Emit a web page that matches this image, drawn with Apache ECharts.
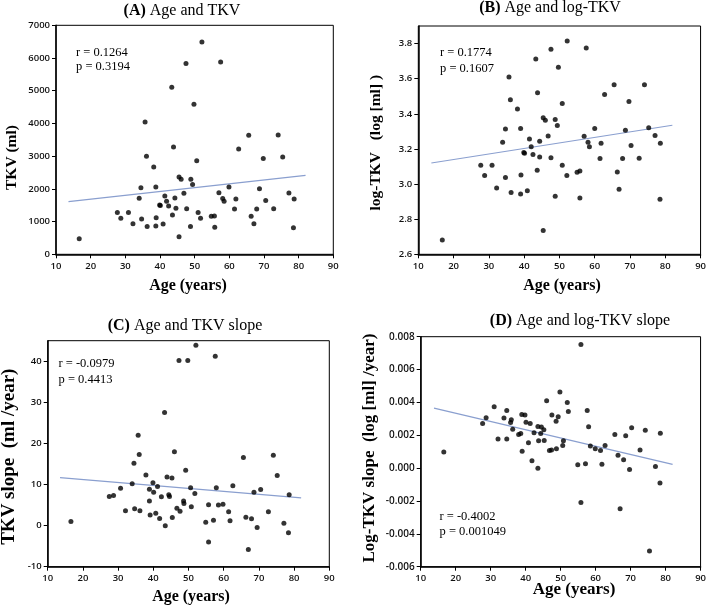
<!DOCTYPE html>
<html>
<head>
<meta charset="utf-8">
<script src="https://cdn.jsdelivr.net/npm/echarts@6/dist/echarts.min.js"></script>
<style>html,body{margin:0;padding:0;background:#fff;}#c{width:709px;height:608px;}</style>
</head>
<body>
<div id="c"></div>
<script>
// ---------- Data ----------
// (A) Age vs TKV (ml)
var ageA = [16.7,27.7,28.7,30.9,32.2,34.0,34.5,34.7,35.7,36.1,36.3,38.2,38.8,38.8,38.9,39.9,40.1,40.9,41.4,41.9,42.5,43.4,43.6,43.9,44.3,44.6,45.5,45.5,46.1,46.9,47.5,47.7,48.9,48.8,49.4,49.8,50.6,51.0,51.7,52.1,54.8,55.7,55.8,57.0,57.5,58.1,58.5,59.9,61.5,61.9,62.7,65.6,66.3,67.1,67.9,68.7,69.8,70.5,72.8,74.1,75.4,77.2,78.5,78.7];
var tkvA = [479,1274,1100,1274,937,1712,2038,1080,4045,2996,846,2670,2058,866,1121,1505,1495,927,1783,1620,1478,5105,1202,3281,1722,1406,2364,540,2293,1865,5829,1396,2293,846,2130,4586,2863,1274,1100,6491,1162,1172,825,1885,5880,1702,1620,2058,1386,1692,3220,3638,1162,937,1386,2007,2925,1641,1396,3648,2976,1875,815,1692];
var fitAgeA = [13.6, 82.0];
var fitValA = [1610, 2415];

// (B) Age vs log-TKV
var ageB = [16.8,27.7,28.8,30.9,32.2,33.9,34.7,34.7,35.7,36.1,36.3,38.1,39.0,39.0,39.1,39.9,40.1,40.9,41.5,42.0,42.5,43.3,43.7,43.8,44.4,44.4,45.4,45.4,46.0,46.8,47.6,47.6,48.8,48.8,49.4,49.7,50.8,50.8,52.1,52.2,55.0,55.8,55.8,57.0,57.6,58.1,58.5,60.0,61.5,61.8,62.8,65.5,66.4,66.9,67.9,68.7,69.7,70.3,72.6,74.1,75.3,77.1,78.5,78.6];
var logB = [2.682,3.107,3.048,3.107,2.977,3.238,3.314,3.038,3.610,3.480,2.952,3.428,3.316,2.943,3.051,3.179,3.176,2.962,3.257,3.213,3.168,3.712,3.078,3.520,3.244,3.154,3.377,2.735,3.364,3.274,3.768,3.150,3.368,2.930,3.333,3.665,3.459,3.107,3.048,3.815,3.067,3.074,2.920,3.272,3.775,3.238,3.213,3.316,3.145,3.232,3.510,3.566,3.069,2.971,3.145,3.307,3.470,3.219,3.147,3.566,3.320,3.276,2.914,3.232];
var fitAgeB = [13.7, 82.0];
var fitValB = [3.120, 3.335];

// (C) Age vs TKV slope (ml/year)
var ageC = [16.6,27.5,28.7,30.7,32.1,34.0,34.5,34.7,35.7,36.0,36.2,37.9,38.9,38.9,39.1,39.9,40.1,40.7,41.2,41.8,42.3,43.2,43.4,43.9,44.4,44.6,45.3,45.4,46.0,46.7,47.3,47.6,48.6,48.7,49.2,49.8,50.6,50.8,51.8,52.1,54.9,55.7,55.7,57.1,57.6,57.9,58.5,59.8,61.4,61.8,62.6,65.6,66.3,67.0,67.9,68.6,69.5,70.5,72.7,74.1,75.2,77.1,78.4,78.6];
var slopeC = [1.0,7.1,7.3,9.1,3.6,10.2,15.2,4.1,22.0,17.3,3.6,12.3,8.85,6.0,2.6,10.4,8.1,3.0,9.5,1.7,7.0,27.5,-0.05,11.8,7.5,7.1,11.6,2.0,18.0,4.2,40.2,3.5,6.0,5.4,13.5,40.2,9.2,4.6,7.8,43.9,0.8,5.05,-4.0,1.3,41.2,9.2,5.0,5.2,3.35,1.2,9.7,16.6,2.05,-5.8,1.65,8.1,-0.45,8.8,3.35,17.1,12.2,0.6,-1.75,7.5];
var fitAgeC = [13.5, 82.0];
var fitValC = [11.68, 6.75];

// (D) Age vs log-TKV slope (log[ml]/year)
var ageD = [16.6,27.7,28.7,31.0,32.1,33.8,34.6,34.6,35.7,35.9,36.3,38.0,38.6,38.9,39.0,39.8,40.1,40.8,41.3,41.8,42.4,43.5,43.5,43.7,44.3,44.5,45.2,45.3,46.0,46.8,47.4,47.5,48.7,48.8,49.3,49.8,50.6,50.8,51.9,52.2,54.9,55.8,55.8,57.1,57.6,58.0,58.5,59.9,61.4,61.8,62.7,65.5,66.4,67.0,68.0,68.6,69.7,70.3,72.7,74.2,75.4,77.1,78.4,78.5];
var logSlopeD = [0.00098,0.00272,0.00307,0.00374,0.00177,0.00305,0.00351,0.00177,0.00278,0.00294,0.00236,0.00205,0.00211,0.00327,0.00102,0.00323,0.00280,0.00154,0.00272,0.00045,0.00215,0.00254,0.00000,0.00167,0.00211,0.00250,0.00234,0.00168,0.00410,0.00108,0.00110,0.00323,0.00286,0.00118,0.00313,0.00463,0.00138,0.00167,0.00400,0.00345,0.00020,0.00753,-0.00209,0.00027,0.00351,0.00252,0.00134,0.00118,0.00108,0.00023,0.00138,0.00205,0.00079,-0.00247,0.00051,0.00197,-0.00008,0.00246,0.00110,0.00231,-0.00505,0.00010,-0.00091,0.00213];
var fitAgeD = [13.8, 82.0];
var fitValD = [0.00365, 0.000225];

// ---------- Chart ----------
function zip(a, b) { return a.map(function (v, i) { return [v, b[i]]; }); }

var SERIF = '"Liberation Serif","Times New Roman",serif';
var SANS = '"Open Sans","DejaVu Sans",Verdana,sans-serif';

var grids = [
  { left: 56, top: 25.3, width: 277.3, height: 229 },
  { left: 418.3, top: 26, width: 284, height: 228.3 },
  { left: 47.7, top: 340.7, width: 281.6, height: 226 },
  { left: 420.7, top: 336.7, width: 280, height: 230 }
].map(function (g) {
  g.show = true; g.borderColor = '#000'; g.borderWidth = 1; g.backgroundColor = '#fff';
  return g;
});

function xAx(i) {
  return {
    type: 'value', gridIndex: i, min: 10, max: 90, interval: 10,
    axisLine: { onZero: false, lineStyle: { color: '#000', width: 1.5 } },
    axisTick: { inside: false, length: 4, lineStyle: { color: '#000' } },
    axisLabel: { color: '#111', fontFamily: SANS, fontSize: 9.5, fontWeight: 600, margin: 7 },
    splitLine: { show: false }
  };
}
function yAx(i, min, max, interval, dec, hideMax, fs) {
  return {
    type: 'value', gridIndex: i, min: min, max: max, interval: interval,
    axisLine: { onZero: false, lineStyle: { color: '#000', width: 1.5 } },
    axisTick: { inside: false, length: 4, lineStyle: { color: '#000' } },
    axisLabel: {
      color: '#111', fontFamily: SANS, fontSize: fs || 9.5, fontWeight: 600, margin: 6,
      showMaxLabel: !hideMax,
      formatter: function (v) { return dec == null ? String(Math.round(v)) : Number(v).toFixed(dec); }
    },
    splitLine: { show: false }
  };
}

function scatter(i, xs, ys) {
  return {
    type: 'scatter', xAxisIndex: i, yAxisIndex: i, data: zip(xs, ys),
    symbol: 'circle', symbolSize: 5, itemStyle: { color: '#000' }, z: 3, silent: true
  };
}
function fit(i, xs, ys) {
  return {
    type: 'line', xAxisIndex: i, yAxisIndex: i, data: zip(xs, ys),
    showSymbol: false, symbol: 'none', lineStyle: { color: '#8a9fcf', width: 1.2 }, z: 2, silent: true
  };
}

function txt(x, y, text, size, bold, rot) {
  return {
    type: 'text', x: x, y: y, rotation: rot || 0, silent: true,
    style: {
      text: text, fill: '#000', textAlign: 'center', textVerticalAlign: 'middle',
      font: (bold ? 'bold ' : '') + size + 'px ' + SERIF
    }
  };
}
function titleTxt(x, y, tag, rest) {
  return {
    type: 'text', x: x, y: y, silent: true,
    style: {
      text: '{b|' + tag + '} {n|' + rest + '}',
      textAlign: 'center', textVerticalAlign: 'middle',
      rich: {
        b: { fontFamily: SERIF, fontSize: 16, fontWeight: 'bold', fill: '#000', color: '#000' },
        n: { fontFamily: SERIF, fontSize: 16, fill: '#000', color: '#000' }
      },
      font: '16px ' + SERIF, fill: '#000'
    }
  };
}
function leftTxt(x, y, text) {
  return {
    type: 'text', x: x, y: y, silent: true,
    style: { text: text, fill: '#000', textAlign: 'left', textVerticalAlign: 'middle', font: '12.5px ' + SERIF }
  };
}

var option = {
  animation: false,
  backgroundColor: '#fff',
  grid: grids,
  xAxis: [xAx(0), xAx(1), xAx(2), xAx(3)],
  yAxis: [
    yAx(0, 0, 7000, 1000, null, false),
    yAx(1, 2.6, 3.9, 0.2, 1, true),
    yAx(2, -10, 45, 10, null, true),
    yAx(3, -0.006, 0.008, 0.002, 3, false, 10)
  ],
  series: [
    fit(0, fitAgeA, fitValA), scatter(0, ageA, tkvA),
    fit(1, fitAgeB, fitValB), scatter(1, ageB, logB),
    fit(2, fitAgeC, fitValC), scatter(2, ageC, slopeC),
    fit(3, fitAgeD, fitValD), scatter(3, ageD, logSlopeD)
  ],
  graphic: [
    titleTxt(182, 11, '(A)', 'Age and TKV'),
    titleTxt(550, 8, '(B)', 'Age and log-TKV'),
    titleTxt(185, 326, '(C)', 'Age and TKV slope'),
    titleTxt(580, 320.5, '(D)', 'Age and log-TKV slope'),

    txt(188, 286, 'Age (years)', 16, true),
    txt(562, 286, 'Age (years)', 16, true),
    txt(191, 597, 'Age (years)', 16, true),
    txt(574, 590, 'Age (years)', 17, true),

    txt(12, 157.5, 'TKV (ml)', 15.5, true, Math.PI / 2),
    txt(376, 142.7, 'log-TKV   (log [ml] )', 15.5, true, Math.PI / 2),
    txt(9.5, 456.7, 'TKV slope  (ml /year)', 19, true, Math.PI / 2),
    txt(369.5, 448, 'Log-TKV slope  (log [ml] /year)', 17, true, Math.PI / 2),

    leftTxt(76, 53, 'r = 0.1264'),
    leftTxt(76, 67, 'p = 0.3194'),
    leftTxt(440, 53, 'r = 0.1774'),
    leftTxt(440, 69, 'p = 0.1607'),
    leftTxt(58.5, 363.5, 'r = -0.0979'),
    leftTxt(58.5, 380, 'p = 0.4413'),
    leftTxt(439.5, 516.7, 'r = -0.4002'),
    leftTxt(439.5, 531.7, 'p = 0.001049')
  ]
};

var chart = echarts.init(document.getElementById('c'), null, { renderer: 'canvas' });
chart.setOption(option);
</script>
</body>
</html>
